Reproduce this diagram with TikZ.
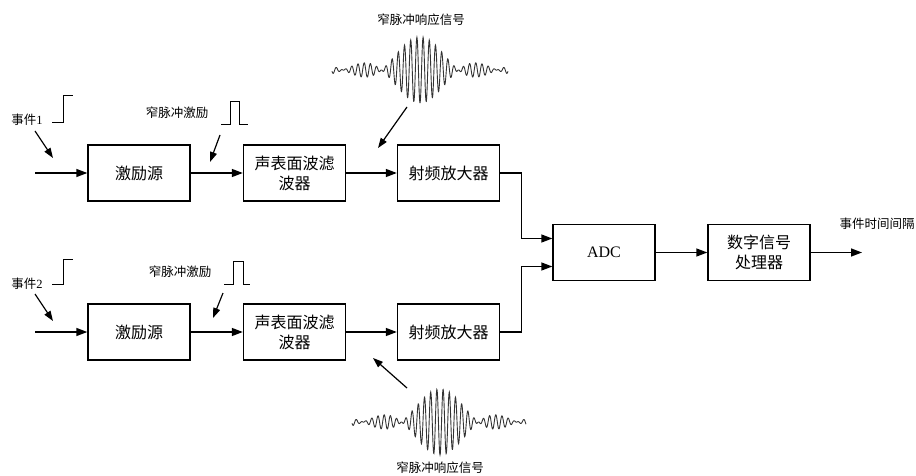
\documentclass[tikz,border=0pt]{standalone}
\usepackage{fontspec}
\setmainfont{Liberation Serif}
\newfontfamily\cjk{Noto Sans CJK SC}
\usetikzlibrary{arrows.meta}
\begin{document}
\begin{tikzpicture}[x=1pt,y=-1pt,
  blk/.style={draw,line width=1.4pt,minimum width=102pt,minimum height=56pt,inner sep=0pt,
    font=\cjk\fontsize{16}{20}\selectfont,align=center},
  lbl/.style={font=\cjk\fontsize{12.5}{15}\selectfont,inner sep=0pt},
  conn/.style={line width=1.4pt,-{Triangle[length=11pt,width=8pt]}},
  ptr/.style={line width=1.2pt,-{Triangle[length=10pt,width=7pt]}},
  sig/.style={line width=0.9pt},
  wave/.style={line width=0.9pt,black!80}]
\useasboundingbox (0,0) rectangle (916,476);

% blocks
\node[blk] (exc1) at (139,173) {激励源};
\node[blk] (saw1) at (294.5,173) {声表面波滤\\波器};
\node[blk] (amp1) at (448.5,173) {射频放大器};
\node[blk] (exc2) at (139,332) {激励源};
\node[blk] (saw2) at (294.5,332) {声表面波滤\\波器};
\node[blk] (amp2) at (448.5,332) {射频放大器};
\node[blk] (adc) at (604,252.5) {\normalfont ADC};
\node[blk] (dsp) at (759,252.5) {数字信号\\处理器};

% signal path
\coordinate (in1) at (35,173);
\coordinate (in2) at (35,332);
\coordinate (out) at (862,252.5);
\draw[conn] (in1) -- (exc1.west);
\draw[conn] (exc1.east) -- (saw1.west);
\draw[conn] (saw1.east) -- (amp1.west);
\draw[conn] (in2) -- (exc2.west);
\draw[conn] (exc2.east) -- (saw2.west);
\draw[conn] (saw2.east) -- (amp2.west);
\draw[conn] (amp1.east) -- ++(21,0) |- ([yshift=14pt]adc.west);
\draw[conn] (amp2.east) -- ++(21,0) |- ([yshift=-14pt]adc.west);
\draw[conn] (adc.east) -- (dsp.west);
\draw[conn] (dsp.east) -- (out);
\node[lbl] (outl) at (877,224) {事件时间间隔};

% event 1
\node[lbl] (ev1) at (27,120) {事件\normalfont 1};
\draw[sig] (52,122) -- (63,122) -- (63,95) -- (73,95);
\coordinate (p1a) at (35,131); \coordinate (p1b) at (53,158);
\draw[ptr] (p1a) -- (p1b);
% pulse 1
\node[lbl] (np1) at (177,113) {窄脉冲激励};
\draw[sig] (221,124) -- (230,124) -- (230,101) -- (239,101) -- (239,124) -- (248,124);
\coordinate (p2a) at (220,135); \coordinate (p2b) at (210,162);
\draw[ptr] (p2a) -- (p2b);

% event 2
\node[lbl] (ev2) at (27,284) {事件\normalfont 2};
\draw[sig] (52,284) -- (63,284) -- (63,259) -- (73,259);
\coordinate (p3a) at (35,294); \coordinate (p3b) at (53,321);
\draw[ptr] (p3a) -- (p3b);
% pulse 2
\node[lbl] (np2) at (180,272) {窄脉冲激励};
\draw[sig] (224,284) -- (233,284) -- (233,261) -- (243,261) -- (243,284) -- (250,284);
\coordinate (p4a) at (223,293); \coordinate (p4b) at (213,318);
\draw[ptr] (p4a) -- (p4b);

% response 1
\node[lbl] (rs1) at (421,20) {窄脉冲响应信号};
\draw[wave] plot[domain=-88:88,samples=600]
  ({420+\x},{70+33*sin(4.6753*\x)/(0.081599*\x)*cos(58.0645*\x)});
\coordinate (p5a) at (407,107); \coordinate (p5b) at (378,148);
\draw[ptr] (p5a) -- (p5b);

% response 2
\node[lbl] (rs2) at (440,468) {窄脉冲响应信号};
\draw[wave] plot[domain=-88:86,samples=600]
  ({440+\x},{422+33*sin(4.6753*\x)/(0.081599*\x)*cos(58.0645*\x)});
\coordinate (p6a) at (407,388); \coordinate (p6b) at (373,358);
\draw[ptr] (p6a) -- (p6b);
\end{tikzpicture}
\end{document}
